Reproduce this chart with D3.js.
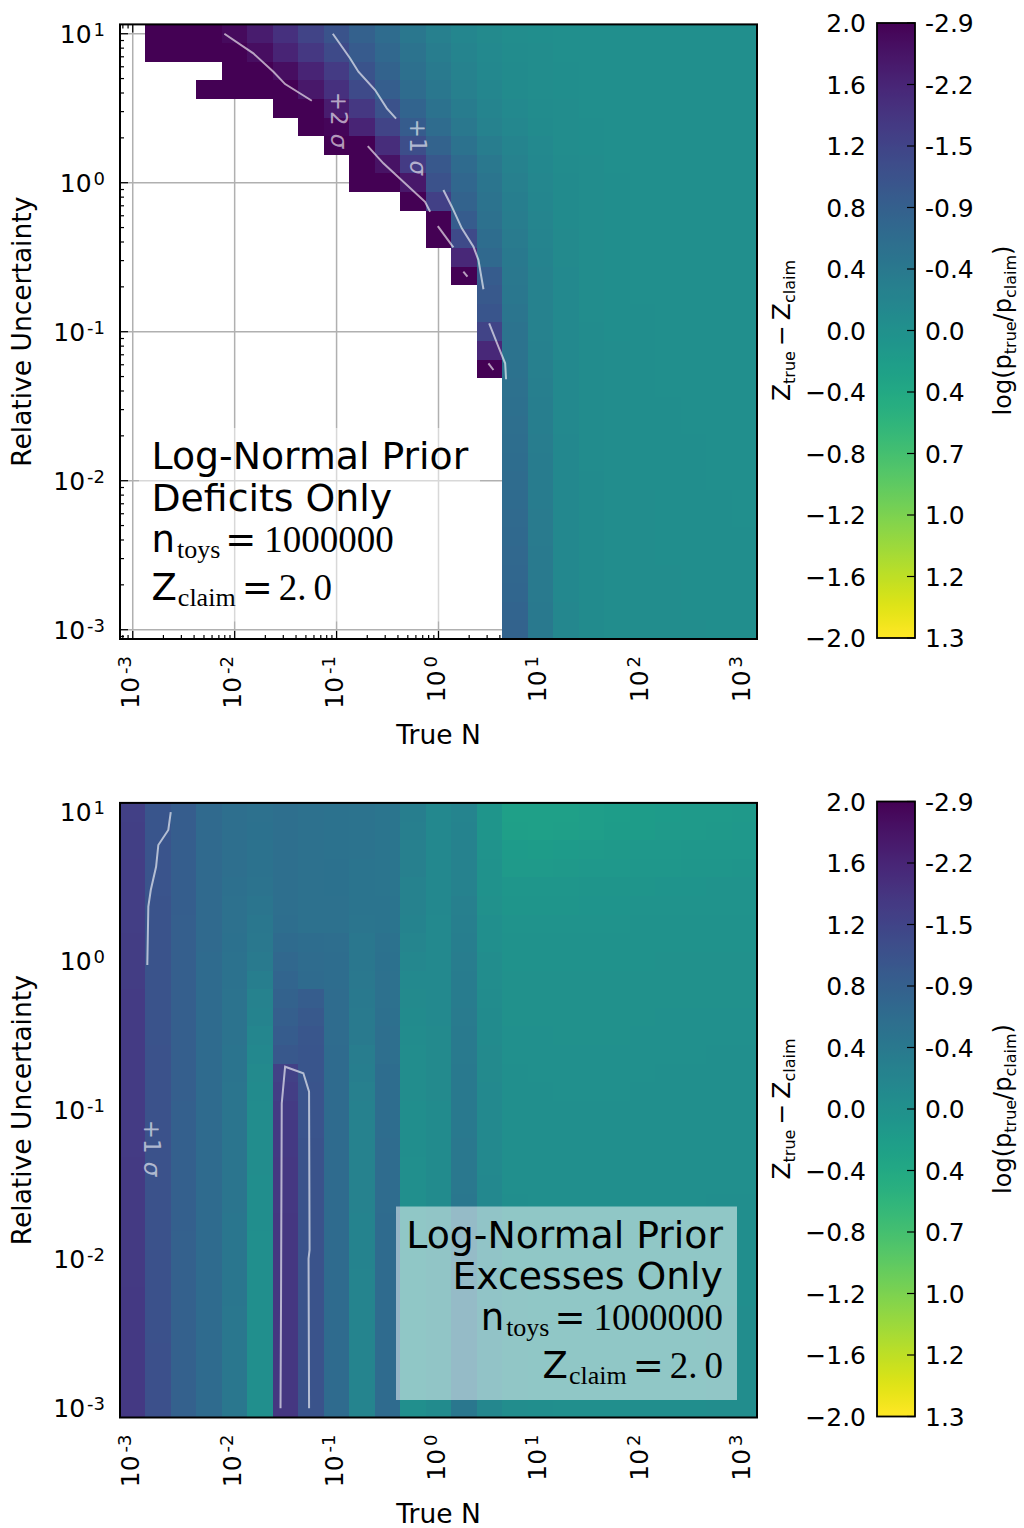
<!DOCTYPE html>
<html><head><meta charset="utf-8">
<script src="https://cdn.jsdelivr.net/npm/d3@7"></script>
<style>
body{margin:0;background:#fff;}
svg{display:block;}
text{font-family:"DejaVu Sans",sans-serif;}
</style></head><body>
<svg id="chart" width="1024" height="1528"></svg>
<script>
const _ = null;
// cell centres: log10(True N), 25 columns
const xExponents = [-3,-2.75,-2.5,-2.25,-2,-1.75,-1.5,-1.25,-1,-0.75,-0.5,-0.25,0,0.25,0.5,0.75,1,1.25,1.5,1.75,2,2.25,2.5,2.75,3];
// cell centres: log10(Relative Uncertainty), top row first, 33 rows
const yExponents = [1,0.875,0.75,0.625,0.5,0.375,0.25,0.125,0,-0.125,-0.25,-0.375,-0.5,-0.625,-0.75,-0.875,-1,-1.125,-1.25,-1.375,-1.5,-1.625,-1.75,-1.875,-2,-2.125,-2.25,-2.375,-2.5,-2.625,-2.75,-2.875,-3];
const xTickExponents = [-3,-2,-1,0,1,2,3];
const yTickExponents = [-3,-2,-1,0,1];
const cbTicks = [2.0,1.6,1.2,0.8,0.4,0.0,-0.4,-0.8,-1.2,-1.6,-2.0];
const cbLeftLabels = ["2.0","1.6","1.2","0.8","0.4","0.0","\u22120.4","\u22120.8","\u22121.2","\u22121.6","\u22122.0"];
const cbRightLabels = ["-2.9","-2.2","-1.5","-0.9","-0.4","0.0","0.4","0.7","1.0","1.2","1.3"];

// Z_true - Z_claim, Deficits Only (rows top->bottom, 25 columns; null = empty)
const zDeficits = [
[_,2.6,2.4,2.15,1.9,1.7,1.45,1.2,0.98,0.78,0.6,0.42,0.28,0.17,0.1,0.06,0.04,0.03,0.02,0.02,0.02,0.02,0.02,0.02,0.02],
[_,2.7,2.5,2.3,2.1,1.85,1.6,1.35,1.1,0.87,0.66,0.47,0.32,0.2,0.12,0.07,0.05,0.03,0.02,0.02,0.02,0.02,0.02,0.02,0.02],
[_,_,_,_,2.5,2.1,1.85,1.6,1.3,0.97,0.75,0.54,0.37,0.24,0.14,0.08,0.05,0.04,0.03,0.02,0.02,0.02,0.02,0.02,0.02],
[_,_,_,2.8,2.6,2.35,2.05,1.75,1.45,1.1,0.82,0.6,0.42,0.27,0.16,0.09,0.06,0.04,0.03,0.02,0.02,0.02,0.02,0.02,0.02],
[_,_,_,_,_,_,2.6,2.05,1.7,1.35,1.0,0.72,0.5,0.33,0.2,0.12,0.07,0.05,0.03,0.03,0.02,0.02,0.02,0.02,0.02],
[_,_,_,_,_,_,_,2.5,1.95,1.6,1.2,0.85,0.6,0.4,0.25,0.15,0.09,0.05,0.04,0.03,0.02,0.02,0.02,0.02,0.02],
[_,_,_,_,_,_,_,_,2.6,2.0,1.5,1.05,0.75,0.5,0.32,0.19,0.11,0.06,0.04,0.03,0.03,0.02,0.02,0.02,0.02],
[_,_,_,_,_,_,_,_,_,2.3,1.8,1.3,0.92,0.62,0.4,0.24,0.14,0.07,0.05,0.03,0.03,0.02,0.02,0.02,0.02],
[_,_,_,_,_,_,_,_,_,2.9,2.5,1.75,1.0,0.68,0.44,0.27,0.15,0.08,0.05,0.04,0.03,0.03,0.02,0.02,0.02],
[_,_,_,_,_,_,_,_,_,_,_,2.6,1.25,0.75,0.48,0.3,0.17,0.09,0.05,0.04,0.03,0.03,0.02,0.02,0.02],
[_,_,_,_,_,_,_,_,_,_,_,_,2.4,0.85,0.52,0.32,0.18,0.09,0.06,0.04,0.03,0.03,0.03,0.02,0.02],
[_,_,_,_,_,_,_,_,_,_,_,_,2.9,1.1,0.58,0.35,0.2,0.1,0.06,0.04,0.03,0.03,0.03,0.02,0.02],
[_,_,_,_,_,_,_,_,_,_,_,_,_,1.55,0.65,0.38,0.21,0.1,0.06,0.04,0.03,0.03,0.03,0.02,0.02],
[_,_,_,_,_,_,_,_,_,_,_,_,_,2.3,0.85,0.4,0.22,0.11,0.06,0.04,0.03,0.03,0.03,0.03,0.02],
[_,_,_,_,_,_,_,_,_,_,_,_,_,_,0.9,0.42,0.23,0.11,0.06,0.04,0.03,0.03,0.03,0.03,0.02],
[_,_,_,_,_,_,_,_,_,_,_,_,_,_,0.95,0.45,0.24,0.11,0.06,0.04,0.04,0.03,0.03,0.03,0.02],
[_,_,_,_,_,_,_,_,_,_,_,_,_,_,1.2,0.47,0.25,0.12,0.07,0.04,0.04,0.03,0.03,0.03,0.03],
[_,_,_,_,_,_,_,_,_,_,_,_,_,_,1.55,0.48,0.26,0.12,0.07,0.05,0.04,0.03,0.03,0.03,0.03],
[_,_,_,_,_,_,_,_,_,_,_,_,_,_,2.3,0.5,0.27,0.12,0.07,0.05,0.04,0.03,0.03,0.03,0.03],
[_,_,_,_,_,_,_,_,_,_,_,_,_,_,_,0.52,0.29,0.12,0.07,0.05,0.04,0.03,0.03,0.03,0.03],
[_,_,_,_,_,_,_,_,_,_,_,_,_,_,_,0.54,0.3,0.12,0.07,0.05,0.04,0.04,0.03,0.03,0.03],
[_,_,_,_,_,_,_,_,_,_,_,_,_,_,_,0.55,0.31,0.12,0.07,0.05,0.04,0.04,0.03,0.03,0.03],
[_,_,_,_,_,_,_,_,_,_,_,_,_,_,_,0.57,0.32,0.13,0.07,0.05,0.04,0.04,0.04,0.03,0.03],
[_,_,_,_,_,_,_,_,_,_,_,_,_,_,_,0.58,0.33,0.13,0.07,0.05,0.04,0.04,0.04,0.03,0.03],
[_,_,_,_,_,_,_,_,_,_,_,_,_,_,_,0.6,0.33,0.13,0.08,0.05,0.04,0.04,0.04,0.03,0.03],
[_,_,_,_,_,_,_,_,_,_,_,_,_,_,_,0.62,0.34,0.13,0.08,0.05,0.05,0.04,0.04,0.04,0.03],
[_,_,_,_,_,_,_,_,_,_,_,_,_,_,_,0.63,0.35,0.13,0.08,0.06,0.05,0.04,0.04,0.04,0.03],
[_,_,_,_,_,_,_,_,_,_,_,_,_,_,_,0.65,0.35,0.14,0.08,0.06,0.05,0.04,0.04,0.04,0.04],
[_,_,_,_,_,_,_,_,_,_,_,_,_,_,_,0.67,0.36,0.14,0.08,0.06,0.05,0.04,0.04,0.04,0.04],
[_,_,_,_,_,_,_,_,_,_,_,_,_,_,_,0.68,0.37,0.14,0.08,0.06,0.05,0.05,0.04,0.04,0.04],
[_,_,_,_,_,_,_,_,_,_,_,_,_,_,_,0.7,0.37,0.14,0.08,0.06,0.05,0.05,0.04,0.04,0.04],
[_,_,_,_,_,_,_,_,_,_,_,_,_,_,_,0.72,0.38,0.15,0.09,0.06,0.05,0.05,0.04,0.04,0.04],
[_,_,_,_,_,_,_,_,_,_,_,_,_,_,_,0.74,0.38,0.15,0.09,0.06,0.05,0.05,0.05,0.04,0.04]
];

// Z_true - Z_claim, Excesses Only (one array per column, values top row -> bottom row)
const zExcessesCols = [
[1.25,1.26,1.26,1.27,1.27,1.28,1.28,1.29,1.29,1.29,1.3,1.3,1.3,1.3,1.31,1.31,1.31,1.31,1.31,1.32,1.32,1.32,1.32,1.32,1.32,1.32,1.33,1.33,1.33,1.33,1.33,1.33,1.33],
[0.95,0.95,0.96,0.96,0.96,0.97,0.97,0.97,0.97,0.98,0.98,0.98,0.98,0.99,0.99,0.99,0.99,0.99,1.0,1.0,1.0,1.0,1.0,1.0,1.01,1.01,1.01,1.01,1.01,1.02,1.02,1.02,1.02],
[0.83,0.83,0.82,0.82,0.82,0.82,0.81,0.81,0.81,0.81,0.8,0.8,0.8,0.8,0.8,0.8,0.79,0.79,0.79,0.79,0.79,0.79,0.79,0.78,0.78,0.78,0.78,0.78,0.78,0.78,0.78,0.78,0.78],
[0.64,0.64,0.64,0.63,0.63,0.63,0.63,0.63,0.62,0.62,0.62,0.62,0.62,0.62,0.62,0.62,0.62,0.62,0.61,0.61,0.61,0.61,0.61,0.61,0.61,0.61,0.61,0.61,0.61,0.61,0.61,0.61,0.61],
[0.56,0.56,0.55,0.55,0.54,0.53,0.52,0.51,0.5,0.49,0.48,0.47,0.47,0.46,0.46,0.45,0.45,0.45,0.44,0.44,0.44,0.44,0.43,0.43,0.43,0.43,0.43,0.42,0.42,0.42,0.42,0.42,0.42],
[0.52,0.51,0.5,0.49,0.47,0.44,0.42,0.4,0.36,0.3,0.25,0.21,0.17,0.13,0.1,0.08,0.07,0.06,0.05,0.05,0.04,0.04,0.04,0.03,0.03,0.03,0.03,0.03,0.02,0.02,0.02,0.02,0.02],
[0.55,0.55,0.55,0.55,0.56,0.56,0.57,0.62,0.67,0.71,0.76,0.8,0.85,0.92,1.22,1.28,1.31,1.33,1.34,1.35,1.35,1.35,1.36,1.36,1.36,1.36,1.36,1.36,1.36,1.36,1.36,1.36,1.36],
[0.52,0.52,0.52,0.52,0.52,0.53,0.53,0.58,0.6,0.62,0.84,0.9,0.93,0.94,0.95,0.96,0.96,0.96,0.97,0.97,0.97,0.97,0.97,0.97,0.97,0.97,0.98,0.98,0.98,0.98,0.98,0.98,0.98],
[0.5,0.5,0.5,0.51,0.51,0.52,0.53,0.57,0.58,0.59,0.6,0.6,0.6,0.61,0.61,0.61,0.61,0.61,0.61,0.62,0.62,0.62,0.62,0.62,0.62,0.62,0.62,0.62,0.62,0.62,0.62,0.62,0.62],
[0.47,0.47,0.47,0.46,0.46,0.46,0.45,0.42,0.41,0.4,0.38,0.37,0.36,0.32,0.3,0.28,0.26,0.25,0.24,0.23,0.22,0.22,0.21,0.21,0.21,0.2,0.2,0.2,0.2,0.2,0.2,0.2,0.2],
[0.44,0.44,0.45,0.45,0.45,0.46,0.46,0.5,0.51,0.52,0.53,0.54,0.55,0.56,0.58,0.58,0.59,0.59,0.6,0.6,0.6,0.6,0.61,0.61,0.61,0.61,0.61,0.62,0.62,0.62,0.62,0.62,0.62],
[0.3,0.29,0.28,0.27,0.25,0.23,0.21,0.18,0.15,0.12,0.1,0.08,0.07,0.06,0.05,0.05,0.04,0.04,0.04,0.03,0.03,0.03,0.03,0.03,0.03,0.02,0.02,0.02,0.02,0.02,0.02,0.02,0.02],
[0.14,0.14,0.14,0.13,0.13,0.13,0.12,0.12,0.12,0.11,0.11,0.11,0.1,0.1,0.1,0.1,0.09,0.09,0.09,0.09,0.09,0.09,0.08,0.08,0.08,0.08,0.08,0.08,0.08,0.08,0.08,0.08,0.08],
[0.2,0.21,0.22,0.23,0.25,0.27,0.29,0.31,0.32,0.33,0.34,0.35,0.36,0.37,0.38,0.38,0.39,0.39,0.4,0.4,0.4,0.41,0.41,0.41,0.41,0.42,0.42,0.42,0.42,0.42,0.42,0.42,0.42],
[-0.09,-0.08,-0.06,-0.04,-0.02,0.0,0.02,0.03,0.05,0.06,0.07,0.08,0.09,0.1,0.1,0.11,0.11,0.12,0.12,0.12,0.13,0.13,0.13,0.14,0.14,0.14,0.14,0.15,0.15,0.15,0.15,0.15,0.15],
[-0.25,-0.24,-0.18,-0.16,-0.1,-0.08,-0.06,-0.03,-0.02,-0.01,0.0,0.0,0.01,0.01,0.02,0.02,0.02,0.03,0.03,0.03,0.03,0.04,0.04,0.04,0.04,0.04,0.05,0.05,0.05,0.05,0.05,0.05,0.05],
[-0.26,-0.25,-0.19,-0.16,-0.1,-0.08,-0.06,-0.03,-0.02,-0.01,0.0,0.0,0.01,0.01,0.01,0.02,0.02,0.02,0.03,0.03,0.03,0.03,0.03,0.04,0.04,0.04,0.04,0.04,0.04,0.04,0.04,0.04,0.04],
[-0.25,-0.24,-0.18,-0.15,-0.1,-0.08,-0.05,-0.03,-0.02,-0.01,0.0,0.0,0.0,0.01,0.01,0.01,0.02,0.02,0.02,0.02,0.03,0.03,0.03,0.03,0.03,0.03,0.03,0.03,0.03,0.03,0.03,0.03,0.03],
[-0.23,-0.22,-0.16,-0.14,-0.09,-0.07,-0.05,-0.03,-0.02,-0.01,0.0,0.0,0.0,0.01,0.01,0.01,0.02,0.02,0.02,0.02,0.02,0.03,0.03,0.03,0.03,0.03,0.03,0.03,0.03,0.03,0.03,0.03,0.03],
[-0.21,-0.2,-0.15,-0.13,-0.08,-0.07,-0.05,-0.03,-0.02,-0.01,0.0,0.0,0.0,0.01,0.01,0.01,0.02,0.02,0.02,0.02,0.02,0.03,0.03,0.03,0.03,0.03,0.03,0.03,0.03,0.03,0.03,0.03,0.03],
[-0.2,-0.19,-0.14,-0.12,-0.08,-0.06,-0.04,-0.03,-0.02,-0.01,0.0,0.0,0.01,0.01,0.01,0.02,0.02,0.02,0.02,0.03,0.03,0.03,0.03,0.03,0.03,0.04,0.04,0.04,0.04,0.04,0.04,0.04,0.04],
[-0.18,-0.17,-0.13,-0.11,-0.07,-0.06,-0.04,-0.02,-0.01,0.0,0.0,0.01,0.01,0.01,0.02,0.02,0.02,0.02,0.03,0.03,0.03,0.03,0.03,0.03,0.04,0.04,0.04,0.04,0.04,0.04,0.04,0.04,0.04],
[-0.17,-0.16,-0.12,-0.1,-0.07,-0.05,-0.04,-0.02,-0.01,0.0,0.0,0.01,0.01,0.01,0.02,0.02,0.02,0.02,0.03,0.03,0.03,0.03,0.03,0.04,0.04,0.04,0.04,0.04,0.04,0.04,0.04,0.04,0.04],
[-0.16,-0.15,-0.11,-0.1,-0.06,-0.05,-0.03,-0.02,-0.01,0.0,0.0,0.01,0.01,0.02,0.02,0.02,0.02,0.03,0.03,0.03,0.03,0.04,0.04,0.04,0.04,0.04,0.04,0.05,0.05,0.05,0.05,0.05,0.05],
[-0.15,-0.14,-0.11,-0.09,-0.06,-0.05,-0.03,-0.02,-0.01,0.0,0.0,0.01,0.01,0.02,0.02,0.02,0.02,0.03,0.03,0.03,0.03,0.04,0.04,0.04,0.04,0.04,0.04,0.05,0.05,0.05,0.05,0.05,0.05]
];

// contour lines as [log10 N, log10 uncertainty] points
const contourDef2 = [
 [[-2.101,1.0],[-1.817,0.868],[-1.620,0.745],[-1.505,0.662],[-1.243,0.550]],
 [[-0.694,0.246],[-0.541,0.130],[-0.132,-0.128],[-0.082,-0.195]],
 [[-0.007,-0.291],[0.146,-0.434]],
 [[0.244,-0.597],[0.284,-0.631]],
 [[0.490,-1.212],[0.539,-1.257]]
];
const contourDef1 = [
 [[-1.037,1.0],[-0.868,0.835],[-0.786,0.745],[-0.622,0.622],[-0.507,0.499],[-0.416,0.430]],
 [[0.048,-0.049],[0.131,-0.161],[0.229,-0.306],[0.343,-0.430],[0.392,-0.519],[0.441,-0.715]],
 [[0.497,-0.944],[0.588,-1.101],[0.654,-1.212],[0.663,-1.319]]
];
const contourExc1 = [
 [[-2.627,1.0],[-2.651,0.881],[-2.749,0.780],[-2.771,0.634],[-2.823,0.478],[-2.847,0.366],[-2.857,-0.026]],
 [[-1.550,-3.0],[-1.545,-2.274],[-1.538,-0.954],[-1.505,-0.708],[-1.326,-0.752],[-1.270,-0.876],[-1.265,-1.938],[-1.275,-1.996],[-1.270,-3.0]]
];
const labelsDef = [{t:"+2", p:[-0.976,0.421]},{t:"+1", p:[-0.205,0.240]}];
const labelsExc = [{t:"+1", p:[-2.811,-1.254]}];

const SERIF = '"Liberation Serif","DejaVu Serif",serif';
const svg = d3.select("#chart");
svg.append("rect").attr("width",1024).attr("height",1528).attr("fill","#fff");
const defs = svg.append("defs");
const grad = defs.append("linearGradient").attr("id","vir").attr("x1",0).attr("y1",0).attr("x2",0).attr("y2",1);
d3.range(0,129).forEach(i=>{const t=i/128; grad.append("stop").attr("offset",t).attr("stop-color",d3.interpolateViridis(t));});

const color = v => d3.interpolateViridis(Math.max(0,Math.min(1,(2-v)/4)));

function rich(sel, parts){
  parts.forEach(p=>{
    const t = sel.append("tspan").text(p.t);
    if(p.font) t.attr("font-family",p.font);
    if(p.size) t.attr("font-size",p.size);
    if(p.dx) t.attr("dx",p.dx);
    if(p.dy) t.attr("dy",p.dy);
    if(p.italic) t.attr("font-style","italic");
  });
}

function drawPanel(o){
  const g = svg.append("g");
  const top = o.top, H = 614.6, bottom = top + H, L = 120, R = 757;
  const x = d3.scaleLog().domain([10**-3.125, 10**3.125]).range([L,R]);
  const y = d3.scaleLog().domain([10**-3.0625, 10**1.0625]).range([bottom, top]);
  const [xd0,xd1] = x.domain(), [yd0,yd1] = y.domain();

  // grid (below heatmap)
  if(o.grid){
    xTickExponents.forEach(e=>g.append("line").attr("x1",x(10**e)).attr("x2",x(10**e)).attr("y1",top).attr("y2",bottom).attr("stroke","#b0b0b0").attr("stroke-width",1.5));
    yTickExponents.forEach(e=>g.append("line").attr("y1",y(10**e)).attr("y2",y(10**e)).attr("x1",L).attr("x2",R).attr("stroke","#b0b0b0").attr("stroke-width",1.5));
  }
  // ticks (below heatmap), on all sides, pointing in
  const tk = g.append("g").attr("stroke","#000").attr("stroke-width",1.2);
  const xMinor=[], yMinor=[];
  for(let k=-4;k<=3;k++) for(let m=2;m<=9;m++){const v=m*10**k; if(v>xd0&&v<xd1) xMinor.push(v); if(v>yd0&&v<yd1) yMinor.push(v);}
  const xt = xTickExponents.map(e=>({v:10**e,len:8})).concat(xMinor.map(v=>({v,len:4})));
  const yt = yTickExponents.map(e=>({v:10**e,len:8})).concat(yMinor.map(v=>({v,len:4})));
  xt.forEach(t=>{const px=x(t.v);
    tk.append("line").attr("x1",px).attr("x2",px).attr("y1",bottom).attr("y2",bottom-t.len);
    tk.append("line").attr("x1",px).attr("x2",px).attr("y1",top).attr("y2",top+t.len);});
  yt.forEach(t=>{const py=y(t.v);
    tk.append("line").attr("y1",py).attr("y2",py).attr("x1",L).attr("x2",L+t.len);
    tk.append("line").attr("y1",py).attr("y2",py).attr("x1",R).attr("x2",R-t.len);});

  // heatmap cells
  const cells = [];
  yExponents.forEach((ey,r)=>xExponents.forEach((ex,c)=>{const v=o.z(r,c); if(v!==null&&v!==undefined) cells.push({ex,ey,v});}));
  g.append("g").attr("shape-rendering","crispEdges").selectAll("rect").data(cells).join("rect")
    .attr("x",d=>x(10**(d.ex-0.125))).attr("width",d=>x(10**(d.ex+0.125))-x(10**(d.ex-0.125)))
    .attr("y",d=>y(10**(d.ey+0.0625))).attr("height",d=>y(10**(d.ey-0.0625))-y(10**(d.ey+0.0625)))
    .attr("fill",d=>color(d.v));

  // contours
  const line = d3.line().x(d=>x(10**d[0])).y(d=>y(10**d[1]));
  g.append("g").selectAll("path").data(o.contours).join("path").attr("d",line)
    .attr("fill","none").attr("stroke","#fff").attr("stroke-opacity",0.62).attr("stroke-width",2);
  o.labels.forEach(l=>{
    const t = g.append("text").attr("transform",`translate(${x(10**l.p[0])},${y(10**l.p[1])}) rotate(90)`)
      .attr("text-anchor","middle").attr("dy","0.35em").attr("font-family",SERIF).attr("font-size",23)
      .attr("fill","#fff").attr("fill-opacity",0.62);
    rich(t,[{t:l.t},{t:"\u03c3",italic:true,dx:8}]);
  });

  // text box
  const bw=341, bh=193.5, bb = bottom-17.5, bx = o.boxRight ? R-20-bw : L+19;
  g.append("rect").attr("x",bx).attr("y",bb-bh).attr("width",bw).attr("height",bh).attr("fill","#fff").attr("fill-opacity",0.5);
  const tx = o.boxRight ? bx+bw-14 : bx+12.5, anchor = o.boxRight ? "end" : "start";
  const by = bb-bh;
  const lines = [
    [{t:"Log-Normal Prior"}],
    [{t:o.subtitle}],
    [{t:"n"},{t:"toys",font:SERIF,size:26,dy:6,dx:2},{t:"=",dy:-6,dx:5},{t:"1000000",font:SERIF,dx:8}],
    [{t:"Z"},{t:"claim",font:SERIF,size:26,dy:6,dx:1},{t:"=",dy:-6,dx:6},{t:"2.",font:SERIF,dx:6},{t:"0",font:SERIF,dx:7}]
  ];
  const offs=[41,82.5,123.5,171.5];
  lines.forEach((parts,i)=>{
    const t=g.append("text").attr("x",tx).attr("y",by+offs[i]).attr("text-anchor",anchor).attr("font-size",i<2?37.8:37).attr("fill","#000");
    rich(t,parts);
  });

  // frame
  g.append("rect").attr("x",L).attr("y",top).attr("width",R-L).attr("height",H).attr("fill","none").attr("stroke","#000").attr("stroke-width",2);

  // tick labels
  yTickExponents.forEach(e=>{
    const t=g.append("text").attr("x",105).attr("y",y(10**e)+9).attr("text-anchor","end").attr("font-size",25);
    rich(t,[{t:"10"},{t:String(e),size:18,dy:-7,dx:2}]);
  });
  xTickExponents.forEach(e=>{
    const t=g.append("text").attr("transform",`translate(${x(10**e)+6},${bottom+17}) rotate(-90)`).attr("text-anchor","end").attr("font-size",25);
    rich(t,[{t:"10"},{t:String(e),size:18,dy:-8,dx:3}]);
  });
  g.append("text").attr("x",(L+R)/2).attr("y",bottom+105).attr("text-anchor","middle").attr("font-size",26.5).text("True N");
  g.append("text").attr("transform",`translate(31,${(top+bottom)/2}) rotate(-90)`).attr("text-anchor","middle").attr("font-size",26.5).text("Relative Uncertainty");

  // colorbar
  const cbT = top-1.4, cbB = bottom-1, cbL = 877, cbR = 915;
  const cs = d3.scaleLinear().domain([-2,2]).range([cbB,cbT]);
  g.append("rect").attr("x",cbL).attr("y",cbT).attr("width",cbR-cbL).attr("height",cbB-cbT).attr("fill","url(#vir)");
  cbTicks.forEach((v,i)=>{
    g.append("line").attr("x1",cbR).attr("x2",cbR-8).attr("y1",cs(v)).attr("y2",cs(v)).attr("stroke","#000").attr("stroke-width",1.2);
    g.append("text").attr("x",866).attr("y",cs(v)+9).attr("text-anchor","end").attr("font-size",25).text(cbLeftLabels[i]);
    g.append("text").attr("x",925).attr("y",cs(v)+9).attr("text-anchor","start").attr("font-size",25).text(cbRightLabels[i]);
  });
  g.append("rect").attr("x",cbL).attr("y",cbT).attr("width",cbR-cbL).attr("height",cbB-cbT).attr("fill","none").attr("stroke","#000").attr("stroke-width",1.8);
  const cm=(cbT+cbB)/2;
  const lt=g.append("text").attr("transform",`translate(790,${cm}) rotate(-90)`).attr("text-anchor","middle").attr("font-size",25);
  rich(lt,[{t:"Z"},{t:"true",size:16,dy:5},{t:"\u2212",dy:-5,dx:5},{t:"Z",dx:5},{t:"claim",size:16,dy:5}]);
  const rt=g.append("text").attr("transform",`translate(1011,${cm}) rotate(-90)`).attr("text-anchor","middle").attr("font-size",24);
  rich(rt,[{t:"log(p"},{t:"true",size:16,dy:5},{t:"/p",dy:-5},{t:"claim",size:16,dy:5},{t:")",dy:-5}]);
}

drawPanel({top:24.4, grid:true, z:(r,c)=>zDeficits[r][c], contours:contourDef2.concat(contourDef1), labels:labelsDef, subtitle:"Deficits Only", boxRight:false});
drawPanel({top:802.9, grid:true, z:(r,c)=>zExcessesCols[c][r], contours:contourExc1, labels:labelsExc, subtitle:"Excesses Only", boxRight:true});
</script>
</body></html>
